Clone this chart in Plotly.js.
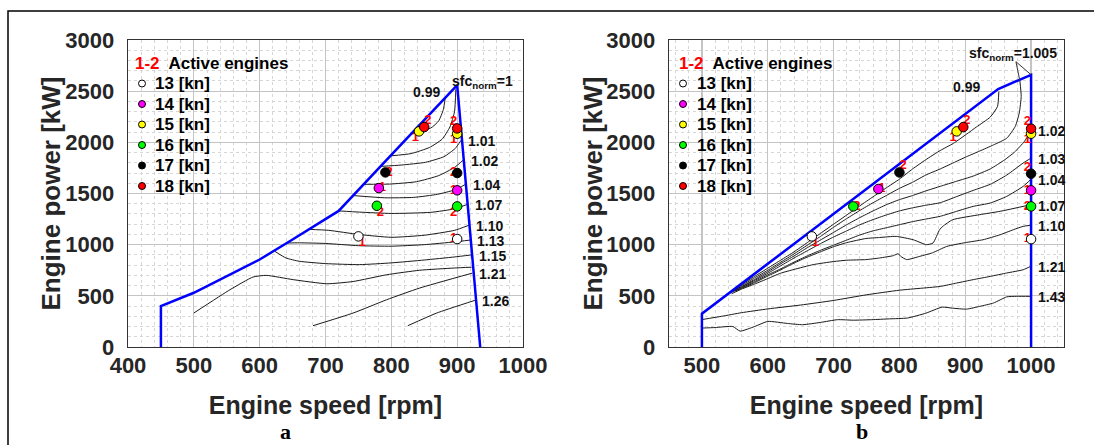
<!DOCTYPE html>
<html><head><meta charset="utf-8">
<script src="https://cdn.plot.ly/plotly-3.0.1.min.js"></script>
<style>html,body{margin:0;padding:0;background:#fff;}#chart{width:1094px;height:445px;}</style>
</head><body><div id="chart"></div>
<script>
// ---------------- DATA ----------------
// Panel a: engine operating envelope (rpm, kW)
const aEnvelopeRpm = [450, 450, 500, 550, 600, 650, 700, 720, 800, 900, 935];
const aEnvelopeKw  = [0, 400, 530, 690, 855, 1050, 1250, 1330, 1877, 2560, 0];
// Panel b: engine operating envelope (rpm, kW)
const bEnvelopeRpm = [500, 500, 950, 1000, 1000];
const bEnvelopeKw  = [0, 325, 2520, 2660, 0];

// Panel a: normalised sfc iso-lines, [rpm, kW]
const a_sfc_099 = [[882,2440],[879,2320],[872,2210],[860,2140],[834,2110]];
const a_sfc_100 = [[898,2520],[896,2300],[889,2150],[877,2030],[858,1950],[830,1890],[799,1868]];
const a_sfc_101 = [[906,2020],[897,1940],[880,1860],[852,1805],[815,1778],[784,1765]];
const a_sfc_102 = [[910,1830],[896,1755],[872,1675],[838,1615],[797,1592],[758,1590]];
const a_sfc_104 = [[913,1590],[896,1535],[870,1492],[834,1462],[790,1458],[742,1480]];
const a_sfc_107 = [[916,1395],[896,1350],[860,1316],[800,1305],[752,1318],[720,1330]];
const a_sfc_110 = [[918,1190],[896,1140],[850,1092],[800,1072],[750,1100],[705,1140],[673,1150]];
const a_sfc_113 = [[920,1045],[896,1027],[850,1000],[800,985],[750,990],[700,1012],[660,1018],[641,1016]];
const a_sfc_115 = [[922,900],[896,880],[850,850],[800,822],[752,805],[700,815],[660,838],[640,870],[623,935]];
const a_sfc_118 = [[922,780],[896,772],[843,750],[793,706],[742,640],[702,618],[651,658],[610,700],[590,684],[555,560],[500,332]];
const a_sfc_121 = [[923,722],[843,576],[793,462],[742,332],[681,208]];
const a_sfc_126 = [[927,456],[869,332],[825,208]];
const aContours = [a_sfc_099, a_sfc_100, a_sfc_101, a_sfc_102, a_sfc_104, a_sfc_107, a_sfc_110, a_sfc_113, a_sfc_115, a_sfc_118, a_sfc_121, a_sfc_126];
const aContourLabels = ['0.99', '', '1.01', '1.02', '1.04', '1.07', '1.10', '1.13', '1.15', '', '1.21', '1.26'];

// Panel b: normalised sfc iso-lines, [rpm, kW]
const b_sfc_099 = [[951,2495],[949,2350],[938,2247],[917,2150],[902,2080],[882,1990],[862,1920],[840,1830],[820,1740],[800,1640],[780,1555],[760,1468],[740,1380],[720,1290],[700,1200],[680,1110],[660,1020],[640,930],[620,850],[600,770],[580,690],[560,610],[552,575]];
const b_sfc_1005 = [[983,2600],[985,2449],[982,2286],[976,2156],[963,2040],[943,1975],[922,1915],[902,1860],[882,1800],[862,1740],[840,1680],[820,1610],[800,1550],[780,1480],[760,1410],[740,1335],[720,1255],[700,1170],[680,1080],[660,995],[640,910],[620,830],[600,750],[580,675],[560,600],[550,565]];
const b_sfc_102 = [[1000,2120],[990,2010],[975,1905],[960,1830],[938,1740],[912,1670],[887,1620],[862,1570],[840,1525],[820,1480],[800,1440],[780,1390],[760,1330],[740,1265],[720,1195],[700,1120],[680,1045],[660,970],[640,890],[620,815],[600,735],[580,660],[560,590],[548,555]];
const b_sfc_103 = [[1000,1846],[988,1798],[963,1680],[938,1590],[912,1530],[887,1470],[862,1410],[840,1385],[820,1360],[800,1330],[780,1290],[760,1245],[740,1195],[720,1135],[700,1075],[680,1010],[660,940],[640,870],[620,795],[600,720],[580,650],[560,585],[546,545]];
const b_sfc_104 = [[1000,1640],[988,1570],[963,1472],[938,1407],[912,1374],[887,1326],[862,1277],[840,1250],[820,1225],[800,1195],[780,1165],[760,1135],[740,1095],[720,1045],[700,995],[680,945],[660,890],[640,830],[620,765],[600,705],[580,638],[560,578],[545,535]];
const b_sfc_107 = [[1000,1391],[953,1326],[922,1293],[881,1244],[866,1180],[861,1146],[851,1016],[841,1000],[821,1048],[795,1081],[770,1070],[749,1060],[720,1020],[700,980],[680,930],[660,878],[640,820],[620,755],[600,693],[580,628],[560,572],[550,545]];
const b_sfc_110 = [[1000,1190],[988,1179],[973,1146],[953,1097],[927,1048],[900,1020],[872,983],[850,920],[831,886],[811,854],[802,886],[798,912],[791,893],[770,870],[749,854],[720,848],[700,835],[669,805],[640,758],[619,720],[600,668],[580,615],[560,565],[545,520]];
const b_sfc_121 = [[1000,790],[988,755],[963,723],[938,690],[912,658],[887,625],[862,592],[800,555],[750,510],[700,455],[650,410],[600,372],[560,335],[530,300],[500,268]];
const b_sfc_143 = [[1000,495],[978,495],[963,490],[943,430],[922,397],[902,370],[880,380],[865,390],[840,330],[812,283],[785,275],[758,267],[730,262],[706,267],[680,240],[653,218],[630,230],[600,250],[580,200],[558,155],[547,200],[520,190],[500,185]];
const bContours = [b_sfc_099, b_sfc_1005, b_sfc_102, b_sfc_103, b_sfc_104, b_sfc_107, b_sfc_110, b_sfc_121, b_sfc_143];
const bContourLabels = ['0.99', '', '1.02', '1.03', '1.04', '1.07', '1.10', '1.21', '1.43'];

// Ship speeds, number of active engines and operating points
const speedLabels = ['13 [kn]', '14 [kn]', '15 [kn]', '16 [kn]', '17 [kn]', '18 [kn]'];
const activeEngines = ['1', '1', '1', '2', '2', '2'];
const aPointRpm = [[750, 900], [781, 900], [842, 900], [778, 900], [791, 900], [850, 900]];
const aPointKw  = [[1081, 1055], [1553, 1531], [2107, 2084], [1380, 1374], [1706, 1700], [2149, 2136]];
const bPointRpm = [[667, 1000], [768, 1000], [887, 1000], [730, 1000], [800, 1000], [897, 1000]];
const bPointKw  = [[1081, 1054], [1544, 1531], [2107, 2084], [1374, 1374], [1706, 1693], [2149, 2133]];

// ---------------- STYLE / LAYOUT ----------------
const FONT = 'Liberation Sans, Arial, Helvetica, sans-serif';
const markerColors = ['#ffffff', '#ff00ff', '#ffff00', '#00ff00', '#000000', '#ff0000'];
const aTextPos = [['bottom right','middle left'],['middle right','middle left'],['bottom left','bottom left'],['bottom right','bottom left'],['middle right','middle left'],['top right','top left']];
const bTextPos = [['bottom right','middle left'],['middle right','middle left'],['bottom left','bottom left'],['middle right','middle left'],['top right','top left'],['top right','top left']];

// pixel helpers for paper coordinates (plot area: x 128..1064, y 40..347)
const PL = 128, PW = 936, PB = 347, PH = 307;
const px2paper = px => (px - PL) / PW;
const py2paper = py => (PB - py) / PH;

const traces = [];
const annotations = [];
const shapes = [];

function addPanel(envRpm, envKw, contours, labels, ptRpm, ptKw, textPos, xa, ya, firstLabelShift) {
  contours.forEach(function (c, i) {
    traces.push({
      x: c.map(p => p[0]), y: c.map(p => p[1]), xaxis: xa, yaxis: ya,
      mode: 'lines', line: {color: '#1a1a1a', width: 1, shape: 'spline', smoothing: 0.5},
      showlegend: false, hoverinfo: 'skip'
    });
    if (labels[i]) {
      const first = (labels[i] === '0.99');
      const p = first ? c.reduce((m, q) => q[1] > m[1] ? q : m) : c.reduce((m, q) => q[0] > m[0] ? q : m);
      annotations.push({
        x: p[0], y: p[1], xref: xa, yref: ya, text: labels[i], showarrow: false,
        xanchor: first ? 'right' : 'left', yanchor: 'middle',
        xshift: first ? firstLabelShift : 5, yshift: first ? 5 : -1,
        font: {family: FONT, size: 14, color: '#111', weight: 'bold'}
      });
    }
  });
  traces.push({
    x: envRpm, y: envKw, xaxis: xa, yaxis: ya, mode: 'lines',
    line: {color: '#0000ff', width: 2.5}, showlegend: false, hoverinfo: 'skip'
  });
  speedLabels.forEach(function (s, i) {
    traces.push({
      x: ptRpm[i], y: ptKw[i], xaxis: xa, yaxis: ya, mode: 'text',
      text: [activeEngines[i], activeEngines[i]], textposition: textPos[i],
      textfont: {family: FONT, size: 13, color: '#ff0000', weight: 'bold'},
      showlegend: false, hoverinfo: 'skip', cliponaxis: false
    });
  });
  speedLabels.forEach(function (s, i) {
    traces.push({
      x: ptRpm[i], y: ptKw[i], xaxis: xa, yaxis: ya, mode: 'markers', name: s,
      showlegend: false,
      marker: {size: 9.5, color: markerColors[i], line: {color: '#000', width: 1}},
      cliponaxis: false
    });
  });
}

addPanel(aEnvelopeRpm, aEnvelopeKw, aContours, aContourLabels, aPointRpm, aPointKw, aTextPos, 'x', 'y', -3);
addPanel(bEnvelopeRpm, bEnvelopeKw, bContours, bContourLabels, bPointRpm, bPointKw, bTextPos, 'x2', 'y2', -17);

// legends (drawn as annotation text + circle symbols), one per panel
[[133, 142, 153], [677, 683, 695]].forEach(function (pos) {
  annotations.push({
    x: px2paper(pos[0]), y: py2paper(63.5), xref: 'paper', yref: 'paper', xanchor: 'left', yanchor: 'middle', showarrow: false,
    text: '<span style="color:#ff0000">1-2</span>  Active engines',
    font: {family: FONT, size: 17, color: '#000', weight: 'bold'}
  });
  speedLabels.forEach(function (s, i) {
    const rowY = py2paper(83.5 + i * 20.5);
    shapes.push({
      type: 'circle', xref: 'paper', yref: 'paper', xsizemode: 'pixel', ysizemode: 'pixel',
      xanchor: px2paper(pos[1]), yanchor: rowY, x0: -3.5, x1: 3.5, y0: -3.5, y1: 3.5,
      fillcolor: markerColors[i], line: {color: '#000', width: 1}, layer: 'above'
    });
    annotations.push({
      x: px2paper(pos[2]), y: rowY, xref: 'paper', yref: 'paper', xanchor: 'left', yanchor: 'middle', showarrow: false,
      text: s, font: {family: FONT, size: 17, color: '#000', weight: 'bold'}
    });
  });
});

// y-axis titles (one per panel)
[50, 592].forEach(function (px) {
  annotations.push({
    x: px2paper(px), y: 0.5, xref: 'paper', yref: 'paper', xanchor: 'center', yanchor: 'middle',
    showarrow: false, textangle: -90, text: 'Engine power [kW]',
    font: {family: FONT, size: 26, color: '#262626', weight: 'bold'}
  });
});

// sfc_norm labels
annotations.push({
  x: aEnvelopeRpm[9], y: aEnvelopeKw[9], xref: 'x', yref: 'y', showarrow: false,
  text: 'sfc<sub>norm</sub>=1', xanchor: 'left', yanchor: 'bottom', xshift: -7, yshift: -8,
  font: {family: FONT, size: 14, color: '#111', weight: 'bold'}
});
annotations.push({
  x: bEnvelopeRpm[3], y: bEnvelopeKw[3], xref: 'x2', yref: 'y2', showarrow: false,
  text: 'sfc<sub>norm</sub>=1.005', xanchor: 'right', yanchor: 'bottom', xshift: 28, yshift: 10,
  font: {family: FONT, size: 14, color: '#111', weight: 'bold'}
});
// leader lines from the b label to the peak and to the first iso-line
[[bEnvelopeRpm[3], bEnvelopeKw[3]], b_sfc_1005[0]].forEach(function (t) {
  shapes.push({
    type: 'line', xref: 'x2', yref: 'y2',
    x0: bEnvelopeRpm[3] - 23, y0: bEnvelopeKw[3] + 128, x1: t[0], y1: t[1],
    line: {color: '#333', width: 1}, layer: 'above'
  });
});

// panel letters
[['a', 285], ['b', 862]].forEach(function (l) {
  annotations.push({
    x: px2paper(l[1]), y: py2paper(446), xref: 'paper', yref: 'paper', showarrow: false, text: l[0],
    xanchor: 'center', yanchor: 'bottom',
    font: {family: 'Liberation Serif, Times New Roman, serif', size: 22, color: '#000', weight: 'bold'}
  });
});

// outer frame
shapes.push({type: 'rect', xref: 'paper', yref: 'paper', x0: px2paper(8), x1: px2paper(1110), y0: py2paper(470), y1: py2paper(11),
             line: {color: '#000', width: 1.5}, fillcolor: 'rgba(0,0,0,0)', layer: 'above'});

const tickFont = {family: FONT, size: 22, color: '#262626', weight: 'bold'};
function xAxis(domain, range, anchor) {
  return {
    domain: domain, range: range, anchor: anchor, tick0: 500, dtick: 100,
    showgrid: true, gridcolor: '#c4c4c4', gridwidth: 1.3, zeroline: false,
    showline: true, mirror: true, linecolor: '#333', linewidth: 1.3,
    ticks: '', ticklabelstandoff: -2, tickfont: tickFont,
    minor: {dtick: 20, showgrid: true, gridcolor: '#d6d6d6', griddash: 'dot', gridwidth: 1},
    title: {text: 'Engine speed [rpm]', standoff: 19, font: {family: FONT, size: 25, color: '#262626', weight: 'bold'}}
  };
}
function yAxis(anchor) {
  return {
    domain: [0, 1], range: [0, 3000], anchor: anchor, dtick: 500,
    showgrid: true, gridcolor: '#c4c4c4', gridwidth: 1.3, zeroline: false,
    showline: true, mirror: true, linecolor: '#333', linewidth: 1.3,
    ticks: '', ticklabelstandoff: 8, tickfont: tickFont,
    minor: {dtick: 100, showgrid: true, gridcolor: '#d6d6d6', griddash: 'dot', gridwidth: 1}
  };
}

const layout = {
  width: 1094, height: 445,
  margin: {l: 128, r: 30, t: 40, b: 98, pad: 0},
  paper_bgcolor: '#ffffff', plot_bgcolor: '#ffffff',
  showlegend: false,
  xaxis: xAxis([0, 395 / PW], [400, 1000], 'y'),
  yaxis: yAxis('x'),
  xaxis2: xAxis([541 / PW, 1], [450, 1050], 'y2'),
  yaxis2: yAxis('x2'),
  annotations: annotations,
  shapes: shapes
};

Plotly.newPlot('chart', traces, layout, {staticPlot: true, displayModeBar: false});
</script>
</body></html>
